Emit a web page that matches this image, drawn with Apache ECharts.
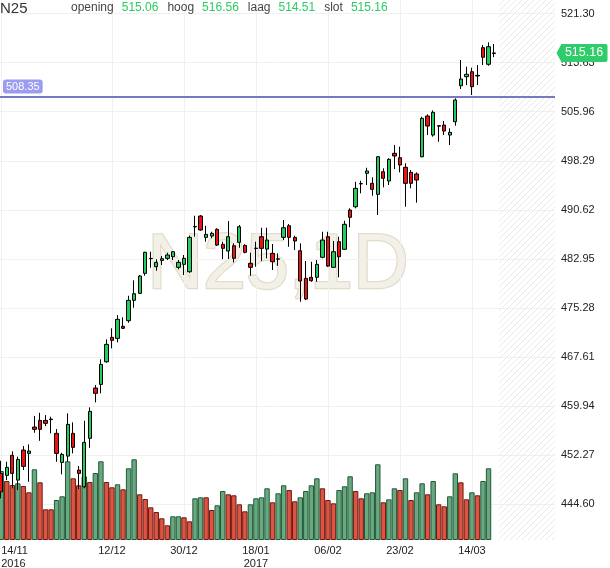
<!DOCTYPE html>
<html><head><meta charset="utf-8">
<script src="https://cdn.jsdelivr.net/npm/echarts@6/dist/echarts.min.js"></script>
<style>html,body{margin:0;padding:0;background:#fff}#c{width:610px;height:568px}</style>
</head><body><div id="c"></div>
<script>
const symbolName = 'N25';
const period = '1D';
const opens  = [449.39,449.08,452.21,448.34,453.04,452.52,456.64,457.68,457.68,457.80,455.65,451.11,452.10,455.65,449.91,447.29,454.87,462.74,463.31,466.85,470.67,470.51,472.39,473.27,476.46,477.55,480.68,482.98,481.72,482.71,483.03,483.28,481.62,482.09,480.93,488.00,489.65,486.31,486.52,487.57,485.22,484.17,485.00,485.53,485.06,482.25,484.62,486.41,484.48,483.81,482.95,486.31,488.13,486.31,484.22,479.90,480.06,480.06,483.19,486.41,481.62,485.63,484.44,490.59,491.10,494.72,496.33,494.76,493.04,496.58,495.12,499.46,498.77,497.27,496.48,496.22,498.92,505.29,502.32,503.78,503.88,502.32,504.40,510.03,511.44,512.22,511.65,515.98,513.38,515.06];
const closes = [446.51,450.33,449.39,451.58,450.49,452.88,456.28,456.28,457.22,457.88,452.52,452.36,457.06,453.46,449.39,454.24,459.09,461.91,466.44,469.57,470.20,473.49,472.08,476.46,477.49,480.26,483.97,483.02,482.40,482.97,483.55,484.06,482.40,483.03,486.31,487.95,487.46,486.78,486.94,485.11,484.59,486.41,483.03,487.97,483.97,481.62,484.57,484.59,485.89,482.50,482.90,487.82,486.31,485.74,479.48,476.66,479.53,482.09,485.89,481.82,484.06,483.28,488.35,489.44,493.98,494.68,496.69,493.82,498.92,495.55,498.52,499.04,497.63,494.76,494.76,495.28,504.93,503.73,505.87,503.70,502.94,502.74,507.80,511.08,511.82,509.88,511.55,514.48,516.13,515.16];
const lows   = [445.48,448.34,447.05,446.78,449.91,448.08,455.74,454.49,456.79,455.65,451.21,449.24,451.21,452.52,446.94,447.05,453.40,460.50,461.91,466.70,468.95,469.89,471.97,472.95,475.30,477.44,480.31,481.56,481.09,481.98,482.76,482.76,481.31,480.42,480.77,486.41,487.35,485.63,486.16,484.95,482.92,482.92,482.40,484.69,483.81,480.31,481.72,482.61,483.03,481.20,481.87,485.89,484.84,484.33,476.24,476.50,479.37,479.37,483.03,481.67,481.56,480.06,484.33,487.88,490.85,493.20,494.50,492.82,489.80,494.14,494.50,496.99,496.48,491.10,493.98,491.73,498.83,502.32,502.06,501.27,502.32,500.75,503.78,509.52,510.14,508.58,510.14,513.27,513.16,514.51];
const highs  = [451.36,451.21,452.83,452.00,453.66,453.93,458.36,458.87,458.51,458.25,456.32,452.62,458.78,457.37,450.53,457.62,459.72,463.21,467.23,470.35,472.08,474.16,473.80,477.18,479.59,480.42,484.06,484.06,482.87,483.39,483.91,484.17,482.76,483.55,486.57,489.69,489.80,488.13,487.19,487.72,485.63,488.86,485.38,488.24,485.22,483.91,485.63,487.82,487.82,485.27,483.81,489.02,488.40,486.57,485.38,482.61,482.50,482.76,487.19,487.19,485.74,486.41,488.91,490.85,495.01,495.17,497.20,495.70,499.03,497.11,498.68,500.75,500.49,497.89,496.84,496.48,505.18,505.56,506.18,503.88,504.51,503.37,508.06,514.05,513.01,512.85,513.27,516.40,516.82,516.56];
const volumes = [69,59,55,56.7,54,47.7,70.7,57.7,30.7,30.7,40,43.7,78.7,61.7,54.7,63.7,58,67,78.7,58,52.7,55.7,50.7,71.7,80.7,45.7,41,32.7,28,21.7,14.7,23.7,23.7,22.7,18.7,41.7,42.7,42.7,30,34.7,49,45.7,44.7,35.7,28.7,35.7,41.7,
  42.7,51.7,37.7,46.7,54.7,50,38.7,42.7,49,54.7,61.7,51.7,40,36.7,50,53.7,63.7,49,41.7,46.7,47.7,75.7,37.7,40.7,51.7,50,61.7,40,47.7,56.7,45.7,59,35.7,33.7,43.7,66.7,57.7,40.7,47.7,44.7,59,71.7];
const volumeUp = [1,0,0,1,0,0,1,0,0,0,1,1,1,0,0,1,0,1,1,0,0,1,0,1,1,0,0,0,0,0,0,1,1,0,0,1,1,0,0,1,1,0,0,0,0,1,1,
  1,1,0,1,1,0,0,1,1,1,1,0,0,0,1,1,1,0,0,1,1,1,0,1,1,0,1,0,1,1,0,1,0,0,1,1,0,0,1,0,1,1];
const xTickIndex = [0,20,33,46,59,72,85];
const xTickLabels = ['14/11\n2016','12/12','30/12','18/01\n2017','06/02','23/02','14/03'];
const yTicks = [444.60,452.27,459.94,467.61,475.28,482.95,490.62,498.29,505.96,513.63,521.30];
const refLevel = 508.35;
const headerLabels = ['opening','hoog','laag','slot'];

const yMin = 438.97, yMax = 523.44;
const xMin = -0.22, xMax = 100;
const futureStart = 89.9;
const VOL_AXIS_MAX = 540;

const FONT = "'Liberation Sans', Arial, sans-serif";
const GREEN = '#22cc5e';
const last = closes.length - 1;
const headerValues = [opens[last], highs[last], lows[last], closes[last]];

const pc = document.createElement('canvas'); pc.width = 6; pc.height = 6;
const g = pc.getContext('2d'); g.strokeStyle = '#e9e9e9'; g.lineWidth = 1;
g.beginPath(); g.moveTo(0,6); g.lineTo(6,0); g.moveTo(-1,1); g.lineTo(1,-1); g.moveTo(5,7); g.lineTo(7,5); g.stroke();

let rich = '';
headerLabels.forEach((l, i) => { rich += '{l|' + l + '}{v|' + headerValues[i].toFixed(2) + '}'; });

const chart = echarts.init(document.getElementById('c'));
chart.setOption({
  animation: false,
  backgroundColor: '#fff',
  textStyle: { fontFamily: FONT },
  grid: { left: 0, right: 55, top: 0, bottom: 28, containLabel: false, outerBoundsMode: 'none' },
  xAxis: {
    type: 'value', min: xMin, max: xMax,
    axisLine: { show: false }, axisTick: { show: false, customValues: xTickIndex },
    splitLine: { show: true, lineStyle: { color: '#f0f0f0', width: 1 } },
    axisLabel: {
      customValues: xTickIndex, alignMinLabel: 'left', margin: 4,
      color: '#222', fontSize: 11, lineHeight: 13, fontFamily: FONT,
      formatter: v => xTickLabels[xTickIndex.indexOf(Math.round(v))] || ''
    }
  },
  yAxis: [{
    type: 'value', position: 'right', min: yMin, max: yMax,
    axisLine: { show: false }, axisTick: { show: false, customValues: yTicks },
    splitLine: { show: true, lineStyle: { color: '#f0f0f0', width: 1 } },
    axisLabel: { customValues: yTicks, margin: 6, color: '#222', fontSize: 11, fontFamily: FONT, formatter: v => v.toFixed(2) }
  }, {
    type: 'value', min: 0, max: VOL_AXIS_MAX, show: false, splitLine: { show: false }
  }],
  graphic: [
    { type: 'text', left: 0, top: 1, z: 100, style: { text: symbolName, font: '15px ' + FONT, fill: '#333' } },
    { type: 'text', left: 71, top: 2, z: 100, style: { text: rich, font: '12px ' + FONT,
      rich: { l: { fill: '#444', fontSize: 12, fontFamily: FONT, padding: [0, 8, 0, 0] },
              v: { fill: '#2bcc62', fontSize: 12, fontFamily: FONT, padding: [0, 9, 0, 0] } } } },
    { type: 'text', x: 278, y: 267, z: -1, silent: true,
      style: { text: symbolName + ',' + period, font: '77px ' + FONT, fill: '#f3f0e8', stroke: '#e2dccb', lineWidth: 2.5, align: 'center', verticalAlign: 'middle' } }
  ],
  series: [{
    type: 'bar', xAxisIndex: 0, yAxisIndex: 1, barWidth: 5.4, z: 1,
    data: volumes.map((v, i) => ({ value: [i, v], itemStyle: { color: volumeUp[i] ? '#6aa882' : '#dc5442', borderColor: volumeUp[i] ? '#1f5a36' : '#6e1a12', borderWidth: 1 } })),
    markArea: { silent: true, itemStyle: { color: { image: pc, repeat: 'repeat' } }, data: [[{ xAxis: futureStart }, { xAxis: xMax }]] }
  }, {
    type: 'candlestick', clip: false, z: 3,
    encode: { x: 0, y: [1, 2, 3, 4] },
    barWidth: 3.8,
    data: opens.map((o, i) => [i, o, closes[i], lows[i], highs[i]]),
    itemStyle: { color: GREEN, color0: '#ee1111', borderColor: '#000', borderColor0: '#000', borderWidth: 1 },
    markLine: {
      silent: true, symbol: 'none', animation: false,
      lineStyle: { color: '#7878c0', width: 2, type: 'solid' },
      label: { show: true, position: 'insideStartTop', distance: 3, formatter: p => p.value.toFixed(2), color: '#fff', backgroundColor: '#9b9bf2', borderRadius: 3, padding: [2, 3, 1, 3], fontSize: 11, fontFamily: FONT },
      data: [{ yAxis: refLevel }]
    },
    markPoint: {
      silent: true, animation: false,
      symbol: 'path://M0,9 L5,0 L50,0 Q52,0 52,2 L52,16 Q52,18 50,18 L5,18 Z',
      symbolSize: [51, 18], symbolOffset: [27, 0], symbolKeepAspect: false,
      itemStyle: { color: '#2ecc6a' },
      label: { show: true, position: 'inside', offset: [2, 0], color: '#fff', fontSize: 12.5, fontFamily: FONT, formatter: p => p.value.toFixed(2) },
      data: [{ coord: [xMax, closes[last]], value: closes[last] }]
    }
  }]
});
</script></body></html>
